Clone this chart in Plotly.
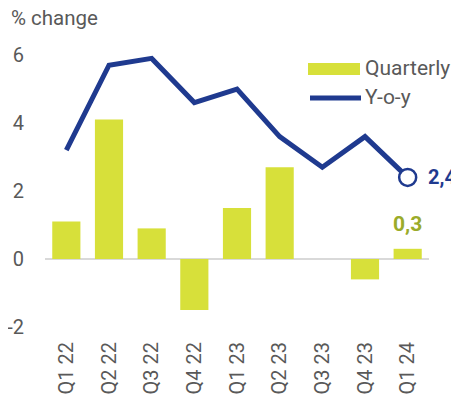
import plotly.graph_objects as go

categories = ["Q1 22", "Q2 22", "Q3 22", "Q4 22", "Q1 23", "Q2 23", "Q3 23", "Q4 23", "Q1 24"]
quarterly = [1.1, 4.1, 0.9, -1.5, 1.5, 2.7, 0.0, -0.6, 0.3]
yoy = [3.2, 5.7, 5.9, 4.6, 5.0, 3.6, 2.7, 3.6, 2.4]
y_ticks = [-2, 0, 2, 4, 6]

BAR = "#d7e03a"
NAVY = "#1f3a8f"
OLIVE = "#9aab2a"
GREY = "#595959"
FONT = "Roboto"

OFF = 8  # page body margin
W, H = 459 - OFF, 400 - OFF
L, T = 45 - OFF, 55 - OFF
R, B = W - (429 - OFF), H - (327 - OFF)
pw, ph = W - L - R, H - T - B

def px(x):
    return (x - OFF - L) / pw

def py(y):
    return (H - B - (y - OFF)) / ph

fig = go.Figure()
fig.add_trace(go.Bar(x=categories, y=quarterly, marker=dict(color=BAR, line=dict(width=0)),
                     width=0.66, showlegend=False, hoverinfo="skip"))
fig.add_trace(go.Scatter(x=categories, y=yoy, mode="lines", line=dict(color=NAVY, width=5),
                         showlegend=False, hoverinfo="skip"))
fig.add_trace(go.Scatter(x=[categories[-1]], y=[yoy[-1]], mode="markers",
                         marker=dict(size=17, color="white", line=dict(color=NAVY, width=2.5)),
                         showlegend=False, hoverinfo="skip"))

annotations = [
    dict(x=categories[-1], y=yoy[-1], text="<b>%s</b>" % f"{yoy[-1]:.1f}".replace(".", ","),
         showarrow=False, xanchor="left", xshift=18, font=dict(color=NAVY, size=20, family=FONT)),
    dict(x=categories[-1], y=quarterly[-1], text="<b>%s</b>" % f"{quarterly[-1]:.1f}".replace(".", ","),
         showarrow=False, yanchor="middle", yshift=25, font=dict(color=OLIVE, size=21, family=FONT)),
    dict(x=px(9), y=py(18), xref="paper", yref="paper", xanchor="left", yanchor="middle",
         text="% change", showarrow=False, font=dict(color=GREY, size=20.5, family=FONT)),
    dict(x=px(363), y=py(68), xref="paper", yref="paper", xanchor="left", yanchor="middle",
         text="Quarterly", showarrow=False, font=dict(color=GREY, size=21, family=FONT)),
    dict(x=px(363), y=py(97), xref="paper", yref="paper", xanchor="left", yanchor="middle",
         text="Y-o-y", showarrow=False, font=dict(color=GREY, size=21, family=FONT)),
]

shapes = [
    dict(type="rect", xref="paper", yref="paper", x0=px(308), x1=px(360), y0=py(75), y1=py(63),
         fillcolor=BAR, line=dict(width=0)),
    dict(type="line", xref="paper", yref="paper", x0=px(310), x1=px(361), y0=py(98), y1=py(98),
         line=dict(color=NAVY, width=5)),
]

fig.update_layout(
    width=W, height=H,
    margin=dict(l=L, r=R, t=T, b=B, pad=0, autoexpand=False),
    paper_bgcolor="white", plot_bgcolor="white",
    font=dict(family=FONT, color=GREY, size=20),
    annotations=annotations,
    shapes=shapes,
    xaxis=dict(type="category", range=[-0.5, 8.5], tickangle=-90, showgrid=False, showline=False,
               zeroline=False, ticks="", ticklabelstandoff=10, automargin=False,
               tickfont=dict(size=20, color=GREY)),
    yaxis=dict(range=[-2, 6], tickvals=y_ticks, ticktext=[str(v) for v in y_ticks], showgrid=False,
               zeroline=True, zerolinecolor="#d9d9d9", zerolinewidth=2, showline=False,
               ticks="", ticklabelstandoff=20, automargin=False,
               tickfont=dict(size=20, color=GREY)),
)

fig.write_html("out.html")
